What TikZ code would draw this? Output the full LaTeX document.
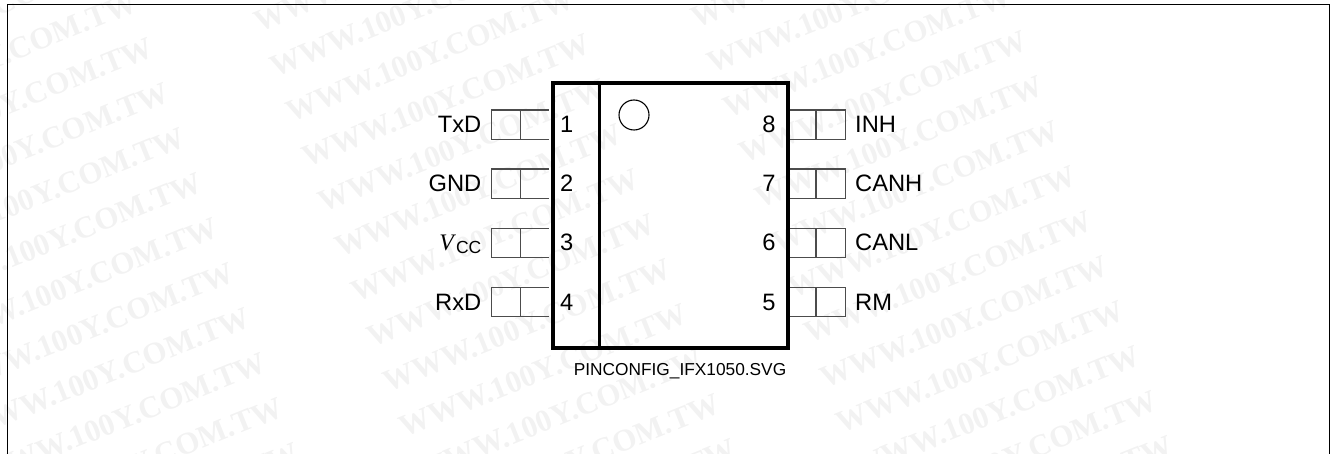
\documentclass[tikz,border=0pt]{standalone}
\usepackage{fontspec}
\setmainfont{Liberation Sans}
\newfontfamily\wmfont{Liberation Serif}
\definecolor{wmgray}{gray}{0.95}
\definecolor{pinline}{gray}{0.3}
\tikzset{
  wmark/.style={font=\wmfont\fontsize{31}{31}\selectfont\bfseries,text=wmgray,rotate=22,inner sep=0pt,anchor=base east},
  pinbox/.style={draw=pinline,line width=1.1pt},
  pinnum/.style={font=\fontsize{23.7}{24}\selectfont,inner sep=0pt,anchor=base},
  pinname/.style={font=\fontsize{23.7}{24}\selectfont,inner sep=0pt},
  body/.style={draw=black,line width=3.6pt,line join=miter},
}
\begin{document}
\begin{tikzpicture}[x=1pt,y=-1pt]
\useasboundingbox (0,0) rectangle (1331,454);
\begin{scope}
\clip (0,0) rectangle (1331,454);
\foreach \c in {0,1,2}{
  \foreach \r in {-5,-4,...,9}{
    \node[wmark] (wm\c r\r) at ({\c*437+\r*16.2+155.5},{\r*45-\c*3.5+55.5}) {WWW.100Y.COM.TW};
  }
}
\draw[line width=1.3pt] (7.5,454) -- (7.5,4.5) -- (1329.5,4.5) -- (1329.5,454);
\end{scope}
% pins left
\foreach \n/\y in {1/110,2/169,3/228.3,4/287.5}{
  \draw[pinbox] (549,\y+29.3) -- (491.5,\y+29.3) -- (491.5,\y) -- (549,\y);
  \draw[pinbox] (520.5,\y) -- (520.5,\y+29.3);
  \node[pinnum] (pl\n) at (566.7,\y+22.7) {\n};
}
\foreach \n/\y in {8/110,7/169,6/228.3,5/287.5}{
  \draw[pinbox] (787,\y+29.3) -- (845.5,\y+29.3) -- (845.5,\y) -- (787,\y);
  \draw[pinbox] (816,\y) -- (816,\y+29.3);
  \node[pinnum] (pr\n) at (769,\y+22.7) {\n};
}
\node[body,draw,minimum width=235pt,minimum height=265pt,inner sep=0pt,anchor=north west] (pkg) at (551,81) {};
\draw[line width=3.6pt] (pkg.north west) ++(48.5,0) -- ++(0,265);
\node[draw=black,circle,line width=1.1pt,minimum size=30pt,inner sep=0pt] (dot) at (634,115) {};
\node[pinname,anchor=base east] (txd) at (481.5,132.7) {TxD};
\node[pinname,anchor=base east] (gnd) at (481.5,191.7) {GND};
\node[pinname,anchor=base east] (vcc) at (481.5,251) {\textit{\fontspec{Liberation Serif}V}{\fontsize{17.5}{18}\selectfont\raisebox{-2.5pt}{CC}}};
\node[pinname,anchor=base east] (rxd) at (481.5,310.2) {RxD};
\node[pinname,anchor=base west] (inh) at (855,132.7) {INH};
\node[pinname,anchor=base west] (canh) at (855,191.7) {CANH};
\node[pinname,anchor=base west] (canl) at (855,251) {CANL};
\node[pinname,anchor=base west] (rm) at (855,310.2) {RM};
\node[font=\fontsize{17.3}{18}\selectfont,inner sep=0pt,anchor=base] (cap) at (680,376) {PINCONFIG\_IFX1050.SVG};
\end{tikzpicture}
\end{document}
